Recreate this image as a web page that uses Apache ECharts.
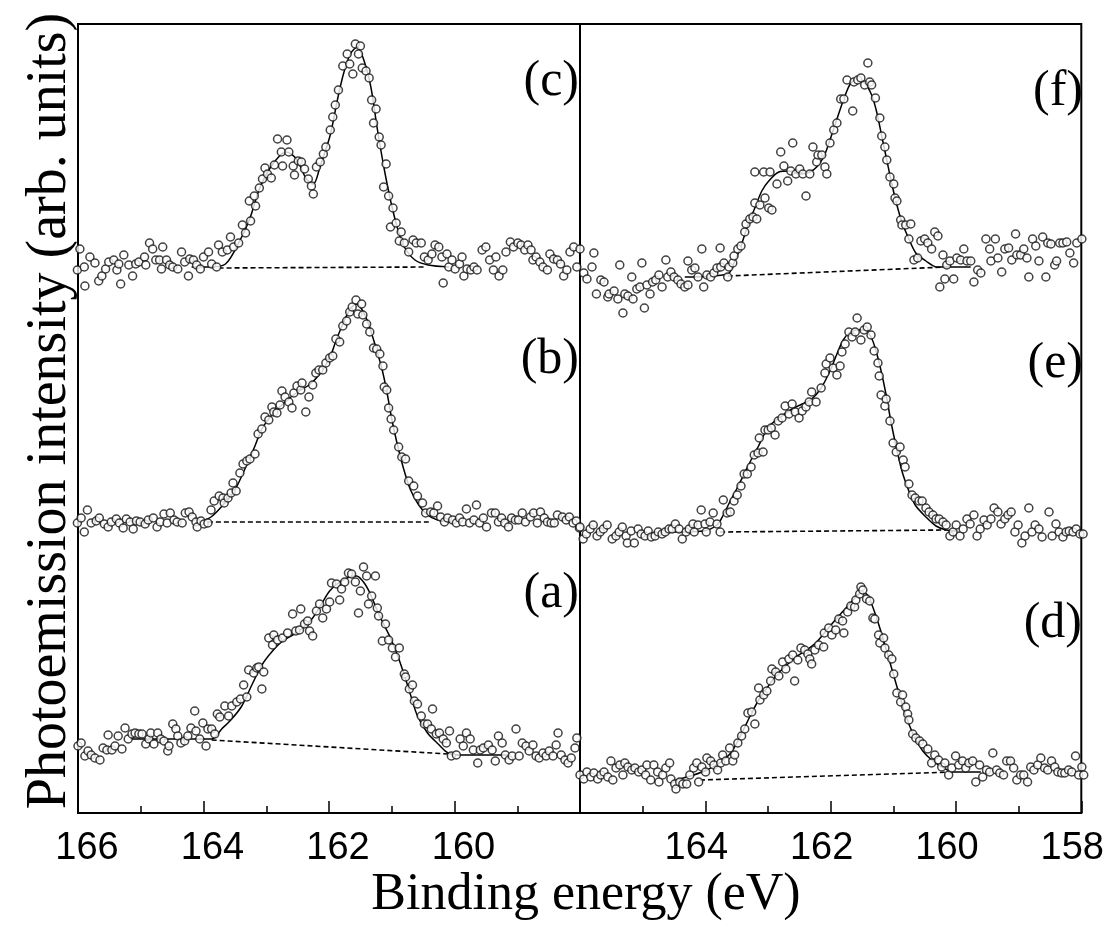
<!DOCTYPE html>
<html>
<head>
<meta charset="utf-8">
<title>Photoemission spectra</title>
<script src="https://cdn.jsdelivr.net/npm/echarts@6/dist/echarts.min.js"></script>
<style>
html, body { margin: 0; padding: 0; background: #fff; }
#chart { width: 1107px; height: 942px; }
</style>
</head>
<body>
<div id="chart"></div>
<script>
// [binding energy (eV), intensity (arb. units)]
var dotsC = [[166.01,17],[165.97,38],[165.90,20],[165.89,1],[165.81,30],[165.73,24],[165.67,6],[165.62,11],[165.56,18],[165.51,25],[165.43,27],[165.38,17],[165.35,23],[165.32,3],[165.27,32],[165.19,22],[165.13,11],[165.08,23],[165.03,25],[164.94,30],[164.92,22],[164.86,44],[164.81,38],[164.76,27],[164.70,27],[164.67,18],[164.65,40],[164.59,27],[164.54,22],[164.49,20],[164.41,18],[164.35,35],[164.30,25],[164.24,11],[164.22,28],[164.16,27],[164.11,22],[164.05,18],[164.00,30],[163.92,35],[163.87,23],[163.79,20],[163.76,42],[163.70,35],[163.62,37],[163.57,50],[163.52,40],[163.44,44],[163.38,62],[163.33,54],[163.25,66],[163.27,86],[163.19,91],[163.17,81],[163.11,99],[163.06,108],[163.02,119],[162.98,113],[162.92,109],[162.87,122],[162.82,148],[162.76,135],[162.74,121],[162.67,147],[162.64,135],[162.57,121],[162.55,112],[162.49,126],[162.44,125],[162.39,118],[162.33,108],[162.28,101],[162.25,93],[162.20,120],[162.14,125],[162.09,133],[162.05,140],[161.98,157],[161.94,170],[161.90,182],[161.85,197],[161.78,221],[161.71,233],[161.67,223],[161.62,213],[161.58,243],[161.50,241],[161.53,233],[161.47,219],[161.41,216],[161.36,209],[161.32,187],[161.25,178],[161.29,164],[161.20,150],[161.17,142],[161.09,123],[161.13,100],[161.05,91],[160.98,79],[161.02,60],[160.93,64],[160.85,55],[160.88,46],[160.80,44],[160.73,35],[160.66,47],[160.61,44],[160.53,44],[160.48,30],[160.42,27],[160.36,33],[160.31,42],[160.25,40],[160.20,30],[160.18,4],[160.12,33],[160.09,20],[160.04,27],[159.99,18],[159.92,23],[159.88,30],[159.85,11],[159.80,18],[159.74,17],[159.69,20],[159.64,17],[159.56,37],[159.50,40],[159.44,27],[159.38,17],[159.34,30],[159.29,11],[159.23,17],[159.18,35],[159.11,45],[159.06,40],[158.99,44],[158.94,42],[158.88,37],[158.83,42],[158.78,37],[158.75,27],[158.70,30],[158.64,25],[158.59,20],[158.52,17],[158.48,33],[158.42,28],[158.36,27],[158.31,23],[158.26,11],[158.21,17],[158.16,35],[158.10,40],[158.05,20],[158.00,38]];
var fitC = [[164.19,20],[163.92,20],[163.65,23],[163.44,44],[163.27,67],[163.11,98],[162.95,118],[162.79,131],[162.68,135],[162.52,128],[162.36,108],[162.25,103],[162.14,121],[161.98,152],[161.87,186],[161.77,213],[161.66,233],[161.55,240],[161.44,226],[161.33,199],[161.23,158],[161.12,118],[161.01,84],[160.90,57],[160.80,40],[160.63,27],[160.42,22],[160.09,20]];
var bgC = [[163.76,19],[160.45,20]];

var dotsB = [[166.01,27],[165.95,32],[165.90,18],[165.85,40],[165.79,27],[165.71,29],[165.66,32],[165.58,26],[165.52,23],[165.47,28],[165.39,31],[165.34,27],[165.28,22],[165.23,31],[165.17,28],[165.12,21],[165.07,29],[165.01,28],[164.93,26],[164.88,30],[164.80,32],[164.74,23],[164.69,28],[164.63,36],[164.58,27],[164.53,37],[164.47,30],[164.42,28],[164.34,27],[164.29,37],[164.23,38],[164.18,33],[164.12,28],[164.10,23],[164.04,29],[163.99,26],[163.93,27],[163.88,40],[163.83,49],[163.75,54],[163.69,52],[163.67,47],[163.61,52],[163.56,57],[163.53,67],[163.48,59],[163.42,77],[163.37,86],[163.31,89],[163.26,91],[163.18,96],[163.13,116],[163.07,121],[163.02,133],[162.96,130],[162.91,143],[162.88,138],[162.83,137],[162.78,145],[162.75,159],[162.70,153],[162.64,148],[162.59,142],[162.56,157],[162.51,164],[162.45,160],[162.43,167],[162.37,138],[162.32,153],[162.26,165],[162.21,177],[162.16,180],[162.10,180],[162.05,187],[161.99,192],[161.94,194],[161.89,211],[161.83,208],[161.78,224],[161.72,229],[161.67,238],[161.63,243],[161.57,250],[161.54,236],[161.48,246],[161.46,235],[161.40,226],[161.35,218],[161.29,202],[161.24,201],[161.19,196],[161.14,184],[161.12,163],[161.08,160],[161.05,142],[161.01,131],[160.97,120],[160.89,103],[160.84,93],[160.78,91],[160.73,69],[160.65,64],[160.59,54],[160.51,47],[160.46,37],[160.38,38],[160.33,37],[160.27,44],[160.22,33],[160.16,28],[160.11,32],[160.03,30],[159.97,27],[159.92,32],[159.87,28],[159.81,41],[159.76,27],[159.69,30],[159.65,45],[159.60,27],[159.54,32],[159.49,23],[159.41,37],[159.35,37],[159.30,28],[159.25,32],[159.20,27],[159.14,23],[159.09,32],[159.03,30],[158.98,30],[158.92,37],[158.87,28],[158.79,33],[158.74,37],[158.68,27],[158.63,38],[158.57,32],[158.52,28],[158.46,27],[158.41,27],[158.36,35],[158.28,33],[158.22,30],[158.17,33],[158.11,27],[158.06,29],[158.01,22]];
var fitB = [[164.10,28],[163.88,33],[163.66,47],[163.50,60],[163.34,81],[163.18,104],[163.07,121],[162.91,135],[162.70,148],[162.48,159],[162.32,165],[162.16,175],[161.99,192],[161.89,209],[161.78,226],[161.67,240],[161.57,246],[161.48,241],[161.37,226],[161.27,206],[161.16,182],[161.08,159],[161.00,131],[160.92,108],[160.81,81],[160.70,60],[160.57,45],[160.43,35],[160.27,30],[160.05,28]];
var bgB = [[163.93,28],[160.41,28]];

var dotsA = [[166.00,67],[165.95,70],[165.89,57],[165.84,62],[165.79,58],[165.73,55],[165.65,53],[165.60,65],[165.54,63],[165.52,78],[165.46,63],[165.41,67],[165.36,77],[165.30,64],[165.25,85],[165.20,74],[165.14,79],[165.09,80],[165.03,79],[164.98,79],[164.92,69],[164.87,74],[164.84,80],[164.79,69],[164.73,80],[164.68,74],[164.63,72],[164.57,62],[164.55,67],[164.49,89],[164.44,84],[164.41,77],[164.36,70],[164.30,72],[164.25,77],[164.20,85],[164.14,102],[164.12,82],[164.06,74],[164.01,90],[163.96,67],[163.93,84],[163.87,84],[163.82,79],[163.78,99],[163.74,96],[163.66,107],[163.60,97],[163.55,107],[163.47,111],[163.41,114],[163.36,128],[163.31,116],[163.28,143],[163.20,140],[163.15,145],[163.12,146],[163.07,124],[163.04,141],[162.96,175],[162.90,168],[162.88,178],[162.82,173],[162.74,175],[162.66,180],[162.58,199],[162.53,182],[162.47,183],[162.45,204],[162.39,189],[162.34,192],[162.31,182],[162.26,177],[162.20,202],[162.15,209],[162.10,195],[162.04,204],[161.99,211],[161.96,230],[161.88,229],[161.83,213],[161.80,224],[161.75,231],[161.69,240],[161.64,239],[161.58,231],[161.53,200],[161.50,222],[161.45,246],[161.40,237],[161.37,209],[161.32,217],[161.26,237],[161.23,205],[161.21,197],[161.15,172],[161.10,189],[161.05,173],[160.99,165],[160.94,156],[160.88,165],[160.80,139],[160.78,136],[160.72,124],[160.67,128],[160.64,112],[160.59,109],[160.53,97],[160.48,89],[160.43,89],[160.37,84],[160.35,104],[160.29,79],[160.24,80],[160.18,74],[160.13,70],[160.08,82],[160.05,57],[159.97,58],[159.91,74],[159.86,67],[159.81,80],[159.75,74],[159.70,63],[159.63,50],[159.59,63],[159.54,65],[159.46,68],[159.40,63],[159.35,52],[159.30,77],[159.24,70],[159.19,58],[159.13,53],[159.08,57],[159.02,84],[158.97,57],[158.92,70],[158.86,67],[158.81,62],[158.75,68],[158.70,57],[158.65,55],[158.59,60],[158.54,57],[158.49,62],[158.43,57],[158.38,68],[158.35,80],[158.30,58],[158.24,53],[158.19,50],[158.14,55],[158.08,65],[158.05,75]];
var fitA = [[165.17,74],[163.87,74],[163.71,84],[163.55,94],[163.39,107],[163.23,128],[163.07,148],[162.90,162],[162.74,172],[162.58,178],[162.42,185],[162.26,195],[162.12,209],[161.99,222],[161.83,231],[161.67,236],[161.56,237],[161.45,231],[161.34,219],[161.23,202],[161.13,189],[161.02,175],[160.91,158],[160.80,138],[160.70,118],[160.59,97],[160.43,80],[160.26,69],[160.10,60],[159.89,58],[159.13,58]];
var bgA = [[163.87,73],[160.10,59]];

var dotsF = [[165.94,14],[165.89,8],[165.81,20],[165.78,34],[165.74,-7],[165.67,7],[165.62,5],[165.56,-10],[165.54,-7],[165.46,-4],[165.40,-12],[165.37,22],[165.32,-26],[165.29,-7],[165.24,-9],[165.18,10],[165.16,-12],[165.10,-2],[165.05,0],[165.02,24],[164.98,-21],[164.94,2],[164.89,-7],[164.85,5],[164.80,7],[164.75,12],[164.70,0],[164.64,27],[164.61,10],[164.56,15],[164.51,10],[164.45,7],[164.40,3],[164.34,0],[164.29,2],[164.29,26],[164.23,17],[164.18,19],[164.13,10],[164.07,38],[164.04,0],[163.99,12],[163.93,10],[163.88,14],[163.83,19],[163.78,39],[163.77,20],[163.72,24],[163.66,10],[163.64,20],[163.58,24],[163.56,31],[163.50,38],[163.45,41],[163.39,55],[163.37,63],[163.31,68],[163.26,70],[163.20,68],[163.23,84],[163.15,82],[163.07,89],[163.01,79],[162.96,77],[163.23,115],[163.09,115],[162.99,115],[162.88,103],[162.82,135],[162.77,121],[162.71,106],[162.66,116],[162.63,144],[162.58,113],[162.52,118],[162.47,113],[162.42,91],[162.36,113],[162.31,140],[162.25,125],[162.23,132],[162.17,132],[162.12,120],[162.09,113],[162.04,144],[161.98,157],[161.93,164],[161.87,188],[161.82,188],[161.77,207],[161.68,176],[161.66,205],[161.60,207],[161.55,209],[161.49,202],[161.44,224],[161.41,205],[161.38,202],[161.32,189],[161.25,169],[161.22,151],[161.17,140],[161.14,127],[161.09,110],[161.03,103],[161.01,89],[160.98,86],[160.92,67],[160.90,62],[160.84,62],[160.76,63],[160.79,48],[160.71,27],[160.65,29],[160.60,46],[160.54,48],[160.49,44],[160.43,38],[160.38,55],[160.33,51],[160.30,0],[160.25,32],[160.19,22],[160.22,8],[160.14,26],[160.08,8],[160.03,29],[159.97,27],[159.92,38],[159.87,26],[159.81,26],[159.76,5],[159.70,17],[159.65,14],[159.57,48],[159.51,38],[159.49,26],[159.42,48],[159.38,29],[159.32,15],[159.27,38],[159.21,39],[159.16,27],[159.10,53],[159.08,32],[159.02,32],[158.97,38],[158.92,29],[158.89,10],[158.83,48],[158.78,41],[158.73,26],[158.67,50],[158.62,10],[158.59,44],[158.54,43],[158.48,22],[158.45,26],[158.40,44],[158.35,44],[158.29,45],[158.24,34],[158.18,24],[158.13,44],[158.05,48]];
var fitF = [[164.34,10],[163.66,13],[163.56,24],[163.45,41],[163.34,62],[163.23,79],[163.12,96],[163.01,106],[162.85,115],[162.69,116],[162.52,113],[162.36,115],[162.25,120],[162.14,130],[162.04,147],[161.93,168],[161.82,188],[161.71,204],[161.60,207],[161.49,204],[161.38,192],[161.30,175],[161.22,151],[161.14,127],[161.06,103],[160.98,82],[160.90,65],[160.79,48],[160.68,34],[160.52,26],[160.35,20],[160.19,20],[159.81,20]];
var bgF = [[163.66,11],[160.19,20]];

var dotsE = [[166.00,23],[165.95,11],[165.90,16],[165.84,21],[165.79,25],[165.73,14],[165.68,18],[165.63,21],[165.57,25],[165.49,11],[165.43,14],[165.38,18],[165.33,23],[165.27,14],[165.25,7],[165.19,19],[165.14,7],[165.08,21],[165.03,16],[164.97,14],[164.92,19],[164.87,13],[164.81,14],[164.76,18],[164.70,16],[164.65,18],[164.59,21],[164.54,21],[164.49,26],[164.43,21],[164.38,11],[164.32,18],[164.27,21],[164.21,26],[164.19,18],[164.13,25],[164.08,40],[164.02,26],[164.00,18],[163.94,28],[163.89,37],[163.83,26],[163.78,18],[163.73,50],[163.67,37],[163.62,38],[163.56,49],[163.51,55],[163.45,64],[163.40,76],[163.35,76],[163.29,83],[163.24,95],[163.18,97],[163.16,112],[163.10,98],[163.07,120],[163.02,120],[162.97,122],[162.91,115],[162.86,129],[162.80,132],[162.75,144],[162.69,136],[162.64,146],[162.59,138],[162.53,132],[162.48,139],[162.42,143],[162.37,148],[162.33,158],[162.26,148],[162.18,162],[162.12,177],[162.10,186],[162.04,192],[161.99,182],[161.93,175],[161.88,184],[161.85,198],[161.80,206],[161.74,218],[161.69,213],[161.64,218],[161.61,232],[161.55,210],[161.50,220],[161.45,223],[161.39,215],[161.34,199],[161.28,187],[161.26,174],[161.23,155],[161.17,144],[161.15,151],[161.09,129],[161.04,107],[160.99,98],[160.93,103],[160.88,90],[160.85,83],[160.79,66],[160.74,55],[160.69,52],[160.63,49],[160.58,49],[160.52,42],[160.47,38],[160.41,35],[160.36,31],[160.31,31],[160.25,28],[160.20,25],[160.14,14],[160.09,18],[160.04,25],[159.98,14],[159.93,21],[159.87,31],[159.82,26],[159.76,35],[159.71,14],[159.66,21],[159.60,30],[159.55,25],[159.49,31],[159.44,42],[159.38,38],[159.33,26],[159.27,31],[159.22,35],[159.17,38],[159.11,18],[159.06,25],[159.00,7],[158.95,14],[158.89,42],[158.84,18],[158.79,25],[158.73,21],[158.68,13],[158.57,38],[158.52,14],[158.46,26],[158.41,18],[158.35,13],[158.30,18],[158.25,19],[158.19,18],[158.14,21],[158.08,16],[158.03,16]];
var fitE = [[164.59,18],[164.05,19],[163.83,25],[163.73,35],[163.62,49],[163.51,62],[163.40,76],[163.29,90],[163.18,103],[163.07,117],[162.97,126],[162.80,134],[162.64,141],[162.48,146],[162.33,151],[162.18,162],[162.04,179],[161.93,196],[161.83,210],[161.72,218],[161.61,220],[161.50,220],[161.39,213],[161.31,199],[161.23,179],[161.15,155],[161.07,127],[160.99,103],[160.90,79],[160.79,59],[160.69,45],[160.52,33],[160.36,24],[160.20,20],[160.04,19]];
var bgE = [[163.78,18],[160.20,20]];

var dotsD = [[166.00,38],[165.94,34],[165.89,41],[165.83,36],[165.78,40],[165.72,34],[165.67,38],[165.62,41],[165.56,36],[165.51,52],[165.48,33],[165.43,45],[165.37,48],[165.32,38],[165.29,50],[165.24,46],[165.18,43],[165.13,45],[165.07,41],[165.02,43],[164.96,38],[164.94,48],[164.88,33],[164.83,48],[164.77,41],[164.75,31],[164.69,38],[164.64,45],[164.58,50],[164.56,34],[164.50,29],[164.48,24],[164.42,31],[164.37,29],[164.31,29],[164.26,38],[164.20,45],[164.15,50],[164.12,31],[164.07,46],[164.01,41],[163.99,55],[163.93,52],[163.88,48],[163.82,43],[163.77,50],[163.74,58],[163.69,52],[163.63,65],[163.58,52],[163.55,58],[163.50,70],[163.44,77],[163.39,84],[163.34,100],[163.28,101],[163.23,89],[163.17,125],[163.15,113],[163.09,118],[163.04,122],[162.98,132],[162.96,144],[162.90,141],[162.85,137],[162.79,151],[162.74,144],[162.69,154],[162.63,158],[162.60,132],[162.55,153],[162.50,165],[162.44,163],[162.39,159],[162.36,154],[162.33,149],[162.28,163],[162.22,168],[162.14,166],[162.13,180],[162.06,185],[162.01,178],[161.95,183],[161.90,194],[161.84,192],[161.82,180],[161.76,201],[161.71,207],[161.65,206],[161.63,213],[161.57,219],[161.55,226],[161.52,223],[161.46,214],[161.41,212],[161.36,195],[161.33,194],[161.27,178],[161.25,170],[161.19,175],[161.17,165],[161.11,158],[161.06,154],[161.03,139],[160.98,120],[160.92,111],[160.89,118],[160.84,106],[160.81,99],[160.79,93],[160.73,79],[160.68,75],[160.62,72],[160.57,69],[160.49,64],[160.43,50],[160.38,58],[160.32,53],[160.27,46],[160.22,50],[160.16,38],[160.11,45],[160.05,57],[160.00,48],[159.94,52],[159.89,45],[159.84,50],[159.78,52],[159.73,31],[159.67,48],[159.62,36],[159.56,43],[159.51,41],[159.46,60],[159.40,43],[159.35,40],[159.29,38],[159.24,52],[159.18,52],[159.13,45],[159.08,33],[159.02,38],[158.97,38],[158.91,31],[158.86,46],[158.81,43],[158.75,48],[158.70,55],[158.64,45],[158.59,43],[158.53,52],[158.48,46],[158.43,41],[158.37,40],[158.32,40],[158.26,43],[158.21,41],[158.15,57],[158.10,38],[158.05,46],[158.02,38]];
var fitD = [[164.48,33],[164.20,38],[163.99,43],[163.77,51],[163.61,60],[163.50,72],[163.39,86],[163.28,100],[163.17,113],[163.06,123],[162.90,137],[162.74,147],[162.58,156],[162.41,163],[162.25,171],[162.09,183],[161.93,195],[161.76,207],[161.63,216],[161.55,220],[161.46,219],[161.38,209],[161.27,189],[161.17,168],[161.06,144],[160.95,120],[160.87,103],[160.79,89],[160.70,76],[160.57,62],[160.41,52],[160.24,45],[160.08,41],[159.65,41]];
var bgD = [[164.10,33],[160.08,41]];

var leftTickLabels = [166, 164, 162, 160];
var rightTickLabels = [164, 162, 160, 158];
var xTitle = 'Binding energy (eV)';
var yTitle = 'Photoemission intensity (arb. units)';

var serif = "'Liberation Serif', 'Times New Roman', serif";
var narrow = "'Liberation Sans Narrow', 'Arial Narrow', 'Liberation Sans', Arial, sans-serif";

var frameTop = 24, bandH = 263;
var columns = [{left: 78, width: 502, labels: leftTickLabels, pad: [0, 0, 0, 18]},
               {left: 580, width: 505, labels: rightTickLabels, pad: [0, 18, 0, 0]}];
// col, row (0 = top), label position
var panels = [
    {name: '(c)', dots: dotsC, fit: fitC, bg: bgC, col: 0, row: 0, lx: 579, ly: 82},
    {name: '(b)', dots: dotsB, fit: fitB, bg: bgB, col: 0, row: 1, lx: 579, ly: 360},
    {name: '(a)', dots: dotsA, fit: fitA, bg: bgA, col: 0, row: 2, lx: 579, ly: 594},
    {name: '(f)', dots: dotsF, fit: fitF, bg: bgF, col: 1, row: 0, lx: 1083, ly: 92},
    {name: '(e)', dots: dotsE, fit: fitE, bg: bgE, col: 1, row: 1, lx: 1083, ly: 364},
    {name: '(d)', dots: dotsD, fit: fitD, bg: bgD, col: 1, row: 2, lx: 1082, ly: 624}
];

var grid = [], xAxis = [], yAxis = [], series = [], graphic = [];

columns.forEach(function (c, i) {
    grid.push({left: c.left, top: frameTop, width: c.width, height: bandH * 3,
        show: true, borderColor: '#000', borderWidth: 2, backgroundColor: 'transparent'});
    xAxis.push({
        gridIndex: i, type: 'value', min: 158, max: 166, interval: 2, inverse: true,
        axisLine: {show: false},
        axisTick: {inside: true, length: 12, lineStyle: {color: '#000', width: 1.5}},
        minorTick: {show: true, splitNumber: 2, length: 7, lineStyle: {color: '#000', width: 1.5}},
        splitLine: {show: false},
        axisLabel: {
            margin: 17, fontSize: 38, fontFamily: narrow, color: '#000', padding: c.pad,
            formatter: function (v) { return c.labels.indexOf(v) >= 0 ? String(v) : ''; }
        }
    });
    yAxis.push({gridIndex: i, type: 'value', min: 0, max: 1, show: false});
});

panels.forEach(function (p) {
    var c = columns[p.col];
    var gi = grid.length;
    grid.push({left: c.left, top: frameTop + p.row * bandH, width: c.width, height: bandH});
    xAxis.push({gridIndex: gi, type: 'value', min: 158, max: 166, inverse: true, show: false});
    yAxis.push({gridIndex: gi, type: 'value', min: 0, max: bandH, show: false});
    series.push({
        type: 'line', xAxisIndex: gi, yAxisIndex: gi, data: p.bg, showSymbol: false, silent: true,
        clip: false, z: 2, lineStyle: {color: '#000', width: 1.6, type: [5, 3]}
    });
    series.push({
        type: 'line', xAxisIndex: gi, yAxisIndex: gi, data: p.fit, smooth: 0.3, showSymbol: false,
        silent: true, clip: false, z: 3, lineStyle: {color: '#000', width: 1.5}
    });
    series.push({
        type: 'scatter', xAxisIndex: gi, yAxisIndex: gi, data: p.dots, symbol: 'circle',
        symbolSize: 8, clip: false, z: 4,
        itemStyle: {color: '#fff', borderColor: '#111', borderWidth: 1.5}
    });
    graphic.push({
        type: 'text', x: p.lx, y: p.ly, z: 10,
        style: {text: p.name, font: '50px ' + serif, fill: '#000', textAlign: 'right', textVerticalAlign: 'middle'}
    });
});

graphic.push({
    type: 'text', x: 586, y: 895, z: 10,
    style: {text: xTitle, font: '52px ' + serif, fill: '#000', textAlign: 'center', textVerticalAlign: 'middle'}
});
graphic.push({
    type: 'text', x: 50, y: 411, rotation: Math.PI / 2, z: 10,
    style: {text: yTitle, font: '56px ' + serif, fill: '#000', textAlign: 'center', textVerticalAlign: 'middle'}
});

var chart = echarts.init(document.getElementById('chart'));
chart.setOption({
    backgroundColor: '#fff',
    animation: false,
    grid: grid,
    xAxis: xAxis,
    yAxis: yAxis,
    series: series,
    graphic: graphic
});
</script>
</body>
</html>
